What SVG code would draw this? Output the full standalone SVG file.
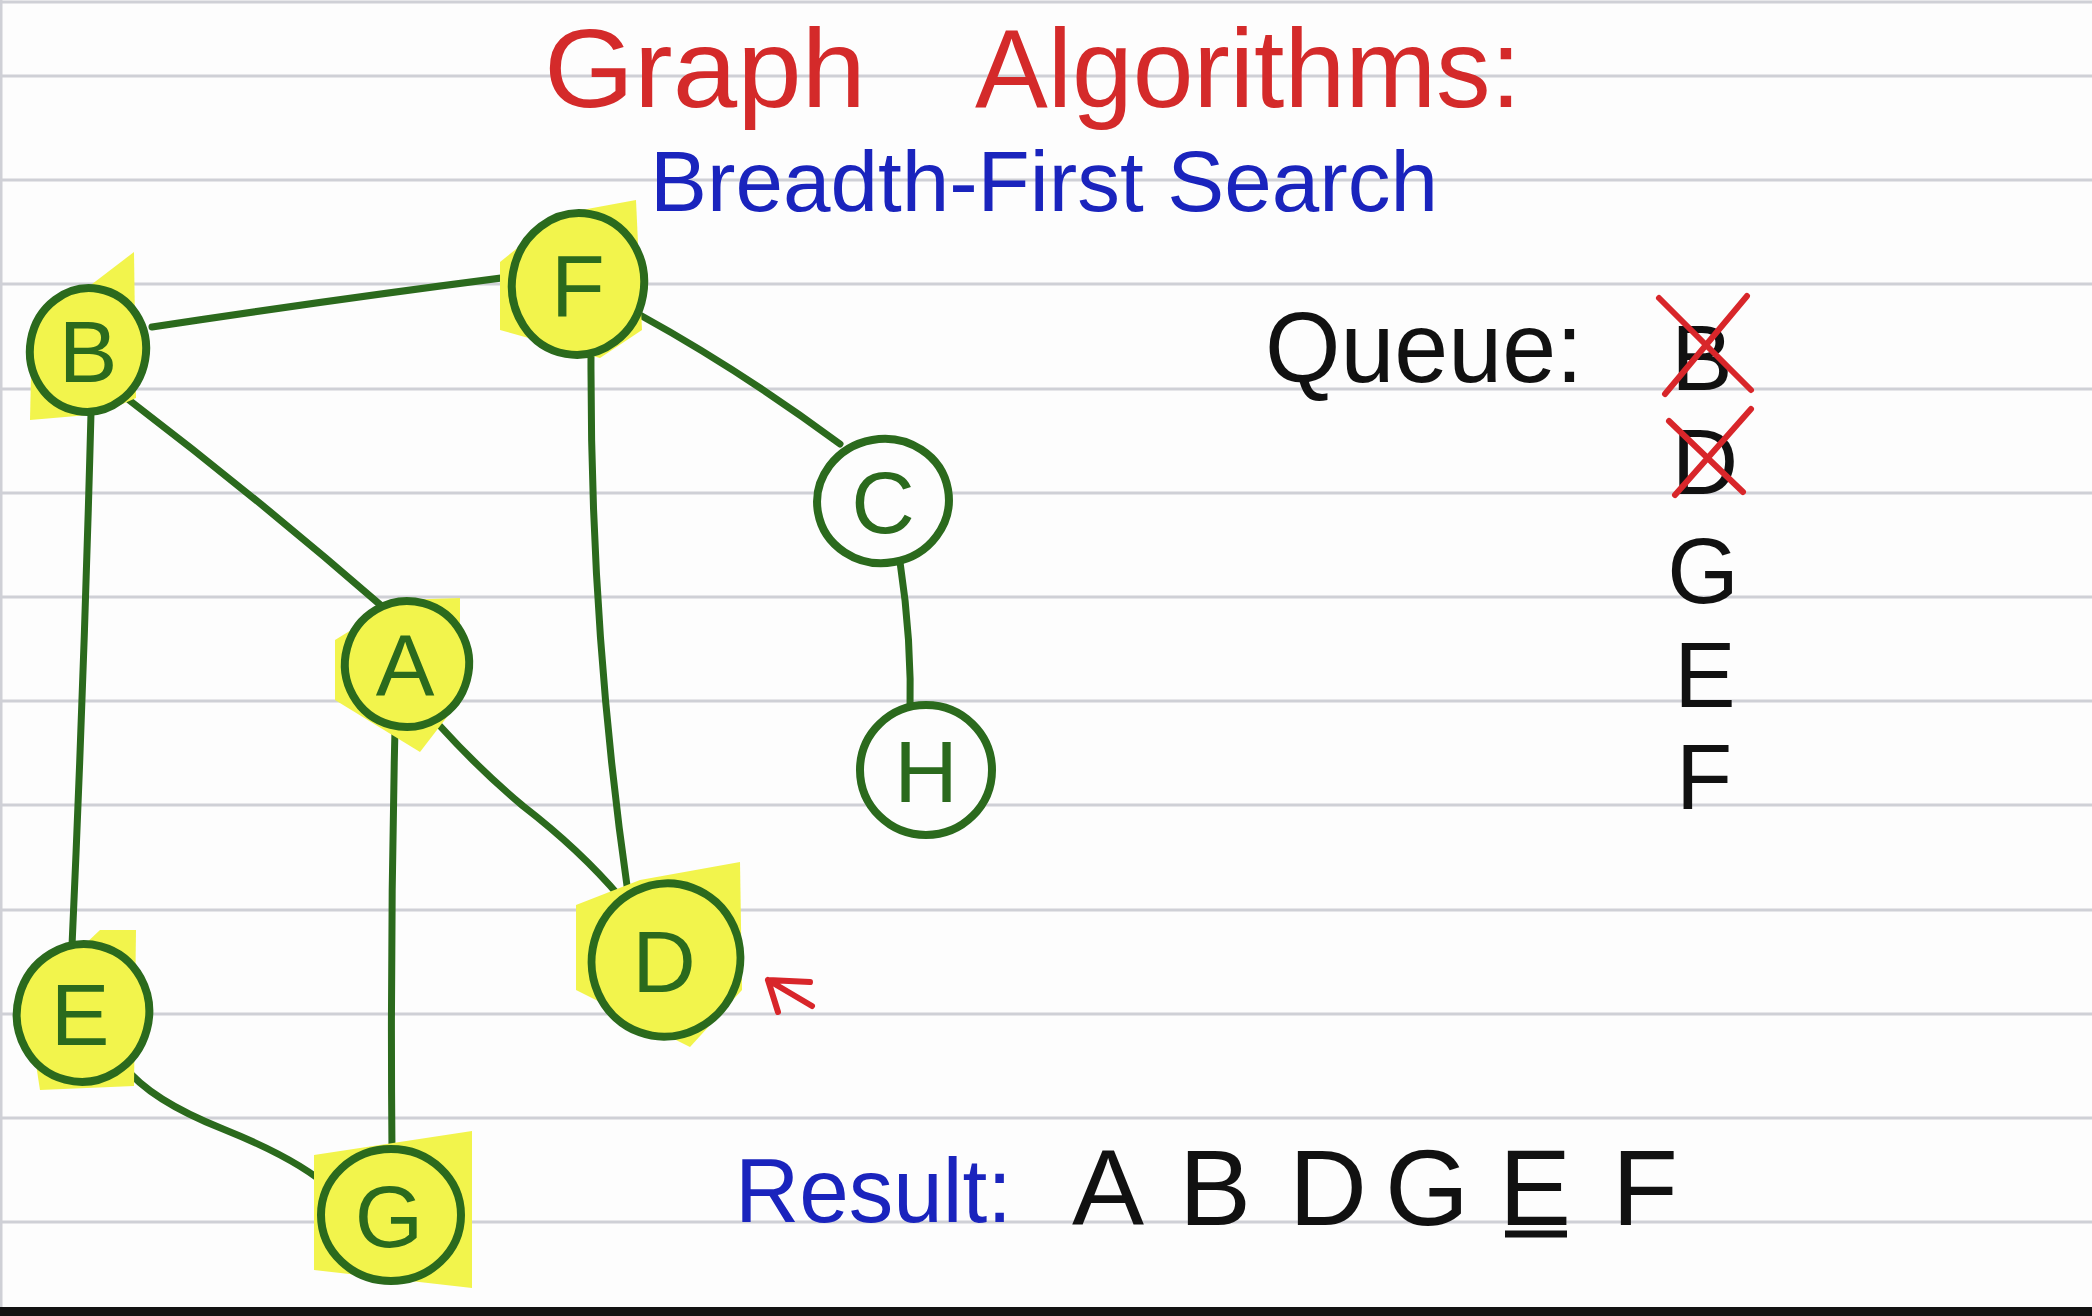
<svg xmlns="http://www.w3.org/2000/svg" width="2092" height="1316" viewBox="0 0 2092 1316">
<defs>
<style>
.rule{stroke:#cfd0d6;stroke-width:3}
.edge{fill:none;stroke:#2b6a1d;stroke-width:7;stroke-linecap:round}
.ring{stroke:#2b6a1d;stroke-width:8}
.hl{fill:#f2f44c}
.lab{font-family:"Liberation Sans","Noto Sans",sans-serif;font-size:88px;fill:#2b6a1d;text-anchor:middle}
.ink{font-family:"Liberation Sans","Noto Sans",sans-serif;fill:#111}
.q{font-size:92px;text-anchor:middle}
.r{font-size:108px;text-anchor:middle}
.x{stroke:#d8262a;stroke-width:6;stroke-linecap:round;fill:none}
</style>
</defs>
<rect width="2092" height="1316" fill="#fdfdfd"/>
<g id="paper">
<line class="rule" x1="0" y1="2" x2="2092" y2="2"/>
<line class="rule" x1="0" y1="76" x2="2092" y2="76"/>
<line class="rule" x1="0" y1="180" x2="2092" y2="180"/>
<line class="rule" x1="0" y1="284" x2="2092" y2="284"/>
<line class="rule" x1="0" y1="389" x2="2092" y2="389"/>
<line class="rule" x1="0" y1="493" x2="2092" y2="493"/>
<line class="rule" x1="0" y1="597" x2="2092" y2="597"/>
<line class="rule" x1="0" y1="701" x2="2092" y2="701"/>
<line class="rule" x1="0" y1="805" x2="2092" y2="805"/>
<line class="rule" x1="0" y1="910" x2="2092" y2="910"/>
<line class="rule" x1="0" y1="1014" x2="2092" y2="1014"/>
<line class="rule" x1="0" y1="1118" x2="2092" y2="1118"/>
<line class="rule" x1="0" y1="1222" x2="2092" y2="1222"/>
<line class="rule" x1="1" y1="0" x2="1" y2="1308"/>
<rect x="0" y="1307" width="2092" height="9" fill="#121212"/>
</g>
<g id="title">
<text font-family="'Liberation Sans','Noto Sans',sans-serif" font-size="112" fill="#d42a2a" y="107"><tspan x="544" textLength="322" lengthAdjust="spacingAndGlyphs">Graph</tspan><tspan x="975" textLength="546" lengthAdjust="spacingAndGlyphs">Algorithms:</tspan></text>
<text font-family="'Liberation Sans','Noto Sans',sans-serif" font-size="86" fill="#1a24bd" x="650" y="211" textLength="788" lengthAdjust="spacingAndGlyphs">Breadth-First Search</text>
</g>
<g id="connectors">
<path class="edge" d="M152,327 Q330,300 517,276"/>
<path class="edge" d="M129,400 Q260,500 384,608"/>
<path class="edge" d="M91,413 Q84,680 72,946"/>
<path class="edge" d="M591,355 Q590,630 628,893"/>
<path class="edge" d="M640,315 Q740,370 840,444"/>
<path class="edge" d="M900,562 Q912,640 910,718"/>
<path class="edge" d="M440,726 Q480,770 523,806 Q580,850 620,897"/>
<path class="edge" d="M395,729 Q390,940 392,1152"/>
<path class="edge" d="M124,1066 Q150,1100 223,1129 Q300,1160 332,1190"/>
</g>
<g id="node-B">
<path class="hl" d="M32,330 L134,252 L136,398 L100,414 L30,420 Z"/>
<ellipse class="ring hl" cx="88" cy="350" rx="58" ry="62" transform="rotate(10 88 350)"/>
<text class="lab" x="88" y="382">B</text>
</g>
<g id="node-F">
<path class="hl" d="M500,262 L560,214 L636,200 L642,330 L600,358 L500,330 Z"/>
<ellipse class="ring hl" cx="578" cy="284" rx="66" ry="71" transform="rotate(10 578 284)"/>
<text class="lab" x="578" y="316">F</text>
</g>
<g id="node-C">
<ellipse class="ring" fill="#fdfdfd" cx="883" cy="501" rx="66" ry="62" transform="rotate(-10 883 501)"/>
<text class="lab" x="883" y="533">C</text>
</g>
<g id="node-A">
<path class="hl" d="M335,640 L400,600 L460,598 L460,700 L420,752 L335,700 Z"/>
<ellipse class="ring hl" cx="407" cy="664" rx="62" ry="63" transform="rotate(15 407 664)"/>
<text class="lab" x="405" y="696">A</text>
</g>
<g id="node-H">
<ellipse class="ring" fill="#fdfdfd" cx="926" cy="770" rx="66" ry="65"/>
<text class="lab" x="926" y="802">H</text>
</g>
<g id="node-D">
<path class="hl" d="M576,905 L640,880 L740,862 L742,990 L690,1047 L576,990 Z"/>
<ellipse class="ring hl" cx="666" cy="960" rx="74" ry="77" transform="rotate(20 666 960)"/>
<text class="lab" x="664" y="992">D</text>
</g>
<g id="node-E">
<path class="hl" d="M26,1000 L100,930 L136,930 L134,1086 L40,1090 Z"/>
<ellipse class="ring hl" cx="83" cy="1013" rx="66" ry="69" transform="rotate(15 83 1013)"/>
<text class="lab" x="80" y="1045">E</text>
</g>
<g id="node-G">
<path class="hl" d="M314,1155 L472,1131 L472,1288 L314,1270 Z"/>
<ellipse class="ring hl" cx="391" cy="1215" rx="70" ry="66"/>
<text class="lab" x="389" y="1247">G</text>
</g>
<g id="pointer">
<path class="x" d="M812,1006 L768,980 M768,980 L810,982 M768,980 L778,1012"/>
</g>
<g id="queue">
<text class="ink" font-size="100" x="1265" y="382" textLength="318" lengthAdjust="spacingAndGlyphs">Queue:</text>
<text class="ink q" x="1702" y="390">B</text>
<path class="x" d="M1659,298 L1751,390 M1747,296 L1665,394"/>
<text class="ink q" x="1705" y="494">D</text>
<path class="x" d="M1669,421 L1743,492 M1751,409 L1675,495"/>
<text class="ink q" x="1703" y="603">G</text>
<text class="ink q" x="1705" y="707">E</text>
<text class="ink q" x="1704" y="809">F</text>
</g>
<g id="result">
<text font-family="'Liberation Sans','Noto Sans',sans-serif" font-size="90" fill="#1a24bd" x="735" y="1222" textLength="277" lengthAdjust="spacingAndGlyphs">Result:</text>
<text class="ink r" x="1108" y="1225">A</text>
<text class="ink r" x="1215" y="1225">B</text>
<text class="ink r" x="1328" y="1225">D</text>
<text class="ink r" x="1427" y="1225">G</text>
<text class="ink r" x="1535" y="1225">E</text>
<line x1="1505" y1="1234" x2="1567" y2="1234" stroke="#111" stroke-width="7"/>
<text class="ink r" x="1645" y="1225">F</text>
</g>
</svg>
